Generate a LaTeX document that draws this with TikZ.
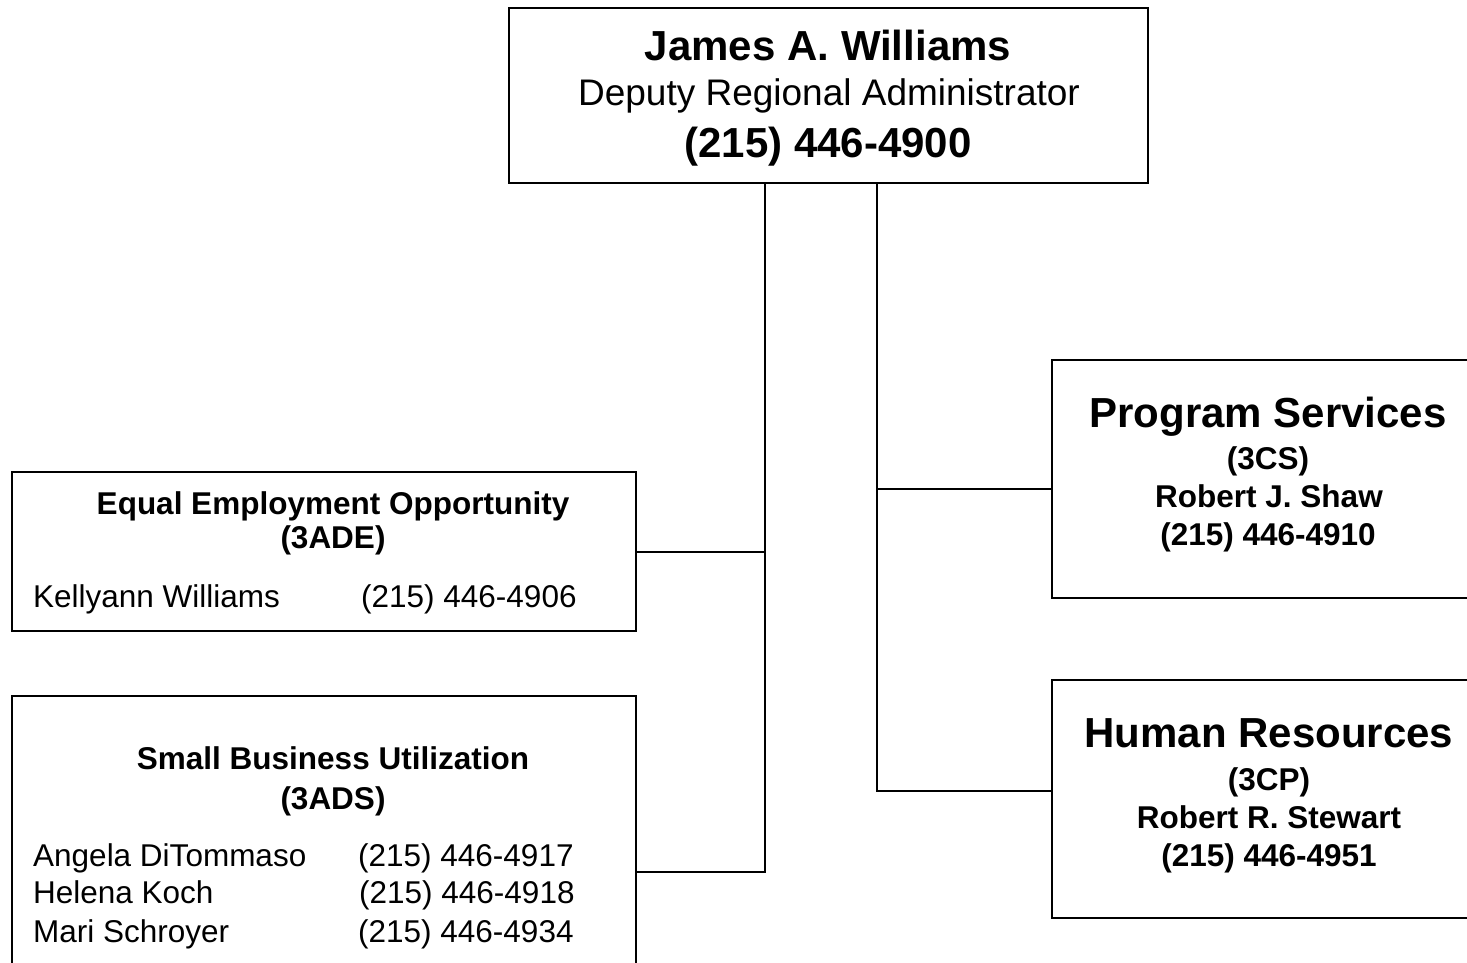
\documentclass[tikz,border=0pt]{standalone}
\usepackage{fontspec}
\setmainfont{Liberation Sans}
\newcommand{\fsz}[1]{\fontsize{#1}{#1}\selectfont}
\tikzset{
  box/.style={draw, line width=2pt, rectangle, inner sep=0pt},
  conn/.style={line width=2pt},
  txt/.style={inner sep=0pt, anchor=base},
  txtw/.style={inner sep=0pt, anchor=base west},
  bigb/.style={font=\fsz{42}\bfseries},
  medr/.style={font=\fsz{37}},
  smb/.style={font=\fsz{31.5}\bfseries},
  smr/.style={font=\fsz{31.5}},
}
\begin{document}
\begin{tikzpicture}[x=1pt,y=-1pt]
\useasboundingbox (0,0) rectangle (1467,962);
\clip (0,0) rectangle (1467,962);
\fill[white] (0,0) rectangle (1467,962);
% boxes
\node[box, minimum width=639pt, minimum height=175pt] (top) at (828.5,95.5) {};
\node[box, minimum width=624pt, minimum height=159pt] (eeo) at (324,551.5) {};
\node[box, minimum width=624pt, minimum height=320pt] (sbu) at (324,856) {};
\node[box, minimum width=460pt, minimum height=238pt] (ps) at (1282,479) {};
\node[box, minimum width=460pt, minimum height=238pt] (hr) at (1282,799) {};
% top texts
\node[txt, bigb] (t1) at (828,60) {James A. Williams};
\node[txt, medr] (t2) at (829,105) {Deputy Regional Administrator};
\node[txt, bigb] (t3) at (828,157) {(215) 446-4900};
% EEO
\node[txt, smb] (e1) at (333,514) {Equal Employment Opportunity};
\node[txt, smb] (e2) at (333,548) {(3ADE)};
\node[txtw, smr] (e3) at (33,607) {Kellyann Williams};
\node[txtw, smr] (e4) at (361,607) {(215) 446-4906};
% SBU
\node[txt, smb] (s1) at (333,769) {Small Business Utilization};
\node[txt, smb] (s2) at (333,809) {(3ADS)};
\node[txtw, smr] (s3) at (33,866) {Angela DiTommaso};
\node[txtw, smr] (s4) at (358,866) {(215) 446-4917};
\node[txtw, smr] (s5) at (33,903) {Helena Koch};
\node[txtw, smr] (s6) at (359,903) {(215) 446-4918};
\node[txtw, smr] (s7) at (33,942) {Mari Schroyer};
\node[txtw, smr] (s8) at (358,942) {(215) 446-4934};
% Program Services
\node[txt, bigb] (p1) at (1268,427) {Program Services};
\node[txt, smb] (p2) at (1268,469) {(3CS)};
\node[txt, smb] (p3) at (1269,507) {Robert J. Shaw};
\node[txt, smb] (p4) at (1268,545) {(215) 446-4910};
% Human Resources
\node[txt, bigb] (h1) at (1269,747) {Human Resources};
\node[txt, smb] (h2) at (1269,790) {(3CP)};
\node[txt, smb] (h3) at (1269,828) {Robert R. Stewart};
\node[txt, smb] (h4) at (1269,866) {(215) 446-4951};
% connector points
\coordinate (cL) at (765,0);
\coordinate (cR) at (877,0);
\coordinate (sbuE) at (636,872);
\coordinate (psW) at (1052,489);
\coordinate (hrW) at (1052,791);
% connectors
\draw[conn] (top.south -| cL) |- (sbuE);
\draw[conn] (eeo.east) -- (eeo.east -| cL);
\draw[conn] (top.south -| cR) |- (hrW);
\draw[conn] (cR |- psW) -- (psW);
\end{tikzpicture}
\end{document}
